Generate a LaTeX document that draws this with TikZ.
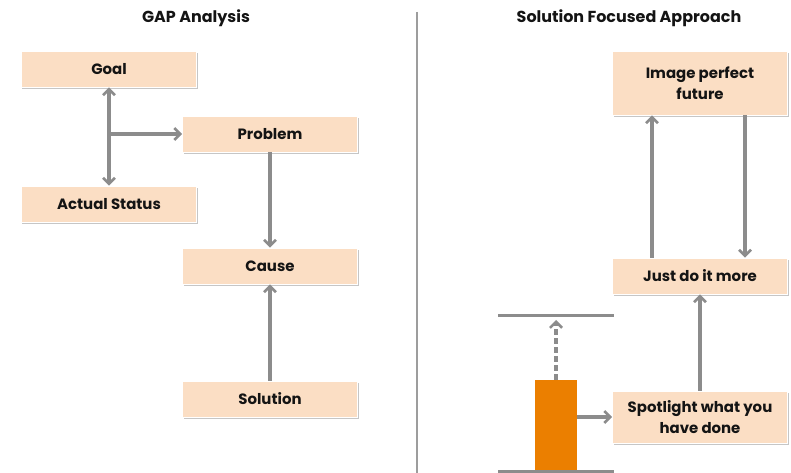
\documentclass[tikz,border=0pt]{standalone}
\usepackage{fontspec}
\setmainfont{Poppins}
\usetikzlibrary{arrows.meta,shadows}
\definecolor{boxfill}{HTML}{FBDEC4}
\definecolor{arrgray}{HTML}{8C8C8C}
\definecolor{barorange}{HTML}{EB7F00}
\definecolor{txt}{HTML}{141414}
\tikzset{
  box/.style={fill=boxfill, draw=white, line width=0.8bp, minimum width=175bp,
    minimum height=36bp, inner sep=0pt, align=center, text=txt,
    font=\bfseries\fontsize{15}{20.5}\selectfont,
    drop shadow={shadow xshift=1bp, shadow yshift=-2.2bp, opacity=0.45, fill=gray}},
  title/.style={font=\bfseries\fontsize{16}{18}\selectfont, text=txt},
  arr/.style={draw=arrgray, line width=3.2bp, -{Straight Barb[length=6bp,width=12bp,line width=2.6bp]}},
  darr/.style={arr, {Straight Barb[length=6bp,width=12bp,line width=2.6bp]}-{Straight Barb[length=6bp,width=12bp,line width=2.6bp]}},
  level/.style={draw=arrgray, line width=3bp},
  divider/.style={draw=arrgray!85, line width=1.8bp}
}
\begin{document}
\begin{tikzpicture}[x=1bp,y=-1bp]
\useasboundingbox (0,0) rectangle (791,473);
% titles
\node[title] (t1) at (196,18) {GAP Analysis};
\node[title] (t2) at (629,18) {Solution Focused Approach};
% divider
\coordinate (d1) at (417,12);
\coordinate (d2) at (417,473);
\draw[divider] (d1) -- (d2);
% left boxes
\node[box] (goal) at (109,69) {Goal};
\node[box] (act) at (109,204) {Actual Status};
\node[box] (prob) at (270,134) {Problem};
\node[box] (cause) at (270,266) {Cause};
\node[box] (sol) at (270,399) {Solution};
\draw[darr] (goal.south) -- (act.north);
\coordinate (br) at (goal.south |- prob.west);
\draw[arr] (br) -- (prob.west);
\draw[arr] (prob.south) -- (cause.north);
\draw[arr] (sol.north) -- (cause.south);
% right boxes
\node[box, minimum height=64bp] (img) at (700,83) {Image perfect\\future};
\node[box] (just) at (700,276) {Just do it more};
\node[box, minimum height=52bp] (spot) at (700,417) {Spotlight what you\\have done};
\coordinate (jl) at (652,0);
\coordinate (jr) at (745,0);
\draw[arr] (jl |- just.north) -- (jl |- img.south);
\draw[arr] (jr |- img.south) -- (jr |- just.north);
\draw[arr] (spot.north) -- (just.south);
% bar
\node[fill=barorange, minimum width=42bp, minimum height=93bp, inner sep=0pt] (bar) at (556,426.5) {};
\coordinate (l1a) at (498,316);
\coordinate (l1b) at (614,316);
\coordinate (l2a) at (498,471);
\coordinate (l2b) at (614,471);
\draw[level] (l1a) -- (l1b);
\draw[level] (l2a) -- (l2b);
\coordinate (dtip) at (556,320);
\draw[arr, line width=3.2bp, dash pattern=on 5.5bp off 3.5bp] (bar.north) -- (dtip);
\draw[arr] (bar.east |- spot.west) -- (spot.west);
\end{tikzpicture}
\end{document}
